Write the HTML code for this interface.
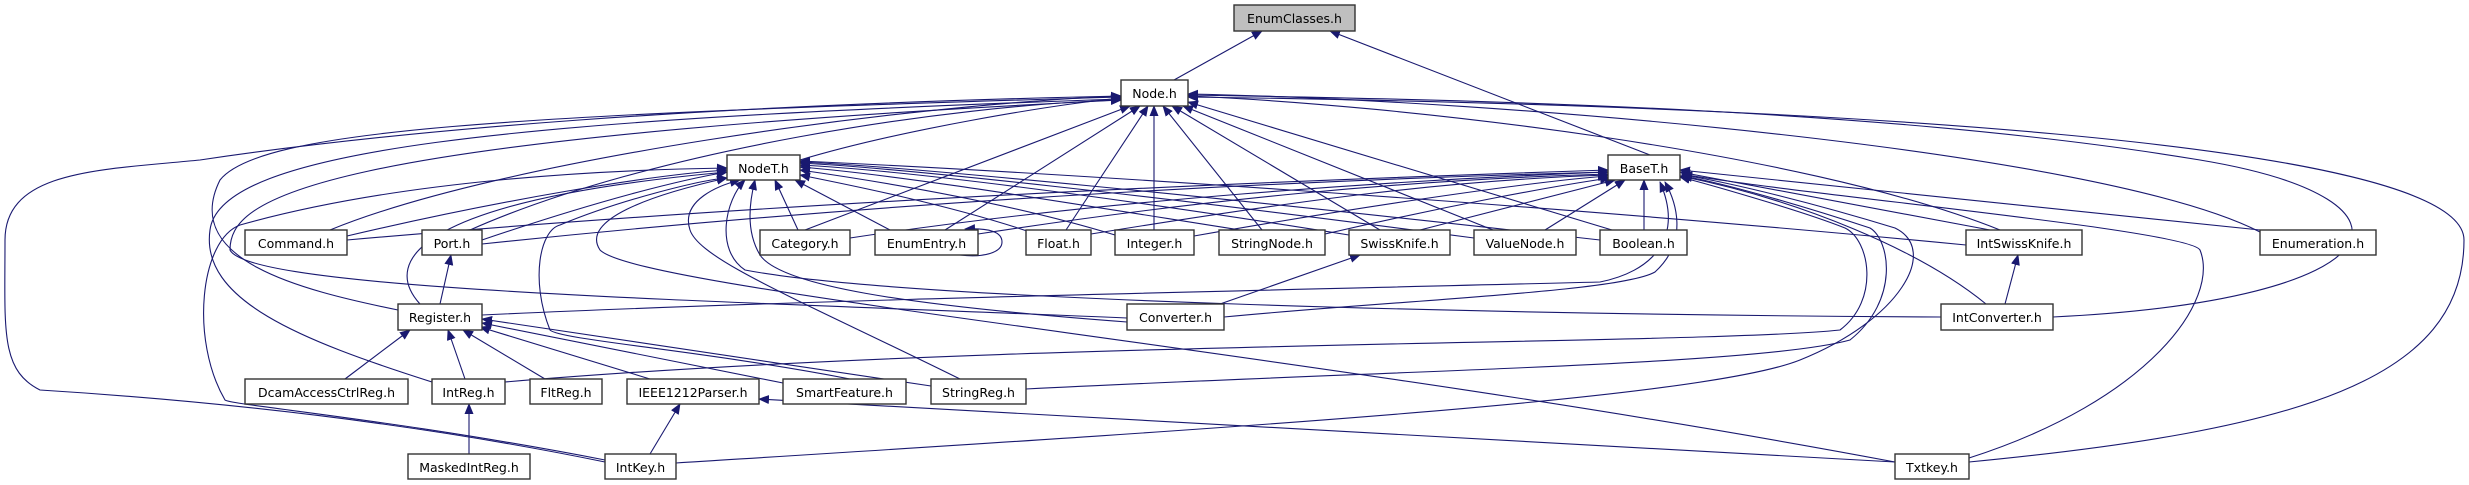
<!DOCTYPE html>
<html><head><meta charset="utf-8"><style>
html,body{margin:0;padding:0;background:#fff}
svg{display:block}
text{font-family:"DejaVu Sans","Liberation Sans",sans-serif;font-size:12.5px;fill:#000}
.e{fill:none;stroke:#191970;stroke-width:1.1}
.b{fill:#fff;stroke:#333;stroke-width:1.4}
</style></head><body>
<svg width="2469" height="485" viewBox="0 0 2469 485" xmlns="http://www.w3.org/2000/svg">
<defs><marker id="a" markerWidth="11" markerHeight="9" refX="10" refY="4.5" orient="auto" markerUnits="userSpaceOnUse"><path d="M0,0 L11,4.5 L0,9 z" fill="#191970"/></marker></defs>
<g class="e" marker-end="url(#a)">
<path d="M1174,80 L1262,31"/>
<path d="M1650,155 L1330,31"/>
<!-- Node.h -->
<path d="M800,160 C900,130 1050,105 1121,98"/>
<path d="M330,230 C500,160 900,105 1121,96"/>
<path d="M470,230 C650,150 950,105 1121,100"/>
<path d="M805,230 L1130,106"/>
<path d="M945,230 L1140,106"/>
<path d="M1066,230 L1148,106"/>
<path d="M1154,230 L1154,106"/>
<path d="M1262,230 L1163,106"/>
<path d="M1380,230 L1172,106"/>
<path d="M1493,230 L1183,106"/>
<path d="M1612,230 L1188,102"/>
<path d="M2000,230 C1800,150 1400,105 1188,96"/>
<path d="M2260,232 C2100,150 1500,100 1188,94"/>
<path d="M2053,317 C2400,300 2440,200 2200,160 C1900,110 1500,100 1188,95"/>
<path d="M1969,462 C2300,430 2464,380 2464,240 C2464,140 1800,105 1188,97"/>
<path d="M398,310 C300,290 180,260 220,180 C260,130 500,115 1121,97"/>
<path d="M1127,318 C700,300 250,290 230,250 C230,200 300,140 1121,100"/>
<path d="M432,382 C300,340 200,300 210,230 C220,150 500,120 1121,99"/>
<path d="M605,462 C400,420 200,400 40,390 C0,370 5,330 5,240 C5,170 100,170 200,160 C400,130 700,105 1121,96"/>
<!-- NodeT.h -->
<path d="M347,236 C500,200 650,175 727,170"/>
<path d="M482,240 C600,200 680,180 727,172"/>
<path d="M798,230 L775,180"/>
<path d="M890,230 L795,180"/>
<path d="M1030,232 C950,205 850,185 800,175"/>
<path d="M1115,235 C1000,200 870,180 800,170"/>
<path d="M1240,230 C1050,200 900,175 800,167"/>
<path d="M1349,235 C1100,195 900,170 800,165"/>
<path d="M1474,238 C1150,195 900,168 800,163"/>
<path d="M1600,240 C1200,195 900,166 800,162"/>
<path d="M1966,245 C1500,200 1000,170 800,161"/>
<path d="M420,304 C380,260 420,200 727,172"/>
<path d="M1127,322 C900,305 780,285 760,255 C745,230 750,200 755,180"/>
<path d="M1941,317 C1500,315 900,300 745,270 C715,250 725,200 745,180"/>
<path d="M605,460 C400,420 230,405 225,400 C190,340 200,240 240,225 C400,180 600,170 727,168"/>
<path d="M960,379 C800,300 700,260 690,230 C680,200 720,185 740,180"/>
<path d="M850,379 C700,350 560,340 550,330 C530,280 540,230 560,225 C620,200 700,180 727,178"/>
<path d="M1895,462 C1300,350 640,290 600,250 C580,220 650,195 727,178"/>
<!-- BaseT.h -->
<path d="M347,240 C800,200 1300,180 1608,170"/>
<path d="M482,244 C900,200 1300,180 1608,172"/>
<path d="M850,238 C1100,200 1400,180 1608,172"/>
<path d="M978,234 C1200,200 1400,180 1608,174"/>
<path d="M1091,234 C1300,200 1450,180 1608,175"/>
<path d="M1194,236 C1400,200 1550,180 1608,176"/>
<path d="M1325,234 C1450,205 1560,185 1610,178"/>
<path d="M1420,230 L1615,180"/>
<path d="M1545,230 L1625,180"/>
<path d="M1644,230 L1644,180"/>
<path d="M1990,230 L1680,172"/>
<path d="M2260,230 L1680,170"/>
<path d="M482,315 C800,300 1200,292 1600,282 C1650,272 1685,240 1660,182"/>
<path d="M1224,317 C1400,300 1620,292 1655,272 C1690,240 1675,200 1665,182"/>
<path d="M1986,304 C1920,250 1800,200 1680,176"/>
<path d="M505,382 C1000,340 1700,345 1840,330 C1880,300 1870,240 1845,228 C1800,210 1700,182 1680,177"/>
<path d="M1026,389 C1400,370 1760,365 1850,340 C1900,300 1890,240 1870,228 C1800,205 1720,182 1682,176"/>
<path d="M676,463 C1200,430 1700,400 1800,360 C1900,320 1940,250 1895,228 C1820,205 1730,182 1682,175"/>
<path d="M1969,458 C2150,400 2220,300 2200,250 C2190,230 1800,195 1682,174"/>
<!-- misc -->
<path d="M440,304 L451,255"/>
<path d="M345,379 L410,330"/>
<path d="M465,379 L448,330"/>
<path d="M545,379 L463,330"/>
<path d="M650,379 L480,327"/>
<path d="M783,383 L482,323"/>
<path d="M931,386 L482,319"/>
<path d="M469,454 L469,404"/>
<path d="M650,454 L680,404"/>
<path d="M1895,462 L759,399"/>
<path d="M1220,304 L1360,255"/>
<path d="M2005,304 L2018,255"/>
<path d="M960,255 C985,258 1002,252 1002,242 C1002,232 990,228 965,229"/>
</g>
<g>
<rect x="1234" y="5" width="121" height="26" fill="#bfbfbf" stroke="#333" stroke-width="1.4"/><text x="1294.5" y="23" text-anchor="middle">EnumClasses.h</text>
<rect class="b" x="1121" y="80" width="67" height="26"/><text x="1154.5" y="98" text-anchor="middle">Node.h</text>
<rect class="b" x="727" y="155" width="73" height="25"/><text x="763.5" y="173" text-anchor="middle">NodeT.h</text>
<rect class="b" x="1608" y="155" width="72" height="25"/><text x="1644" y="173" text-anchor="middle">BaseT.h</text>
<rect class="b" x="245" y="230" width="102" height="25"/><text x="296" y="248" text-anchor="middle">Command.h</text>
<rect class="b" x="422" y="230" width="60" height="25"/><text x="452" y="248" text-anchor="middle">Port.h</text>
<rect class="b" x="760" y="230" width="90" height="25"/><text x="805" y="248" text-anchor="middle">Category.h</text>
<rect class="b" x="875" y="230" width="103" height="25"/><text x="926.5" y="248" text-anchor="middle">EnumEntry.h</text>
<rect class="b" x="1026" y="230" width="65" height="25"/><text x="1058.5" y="248" text-anchor="middle">Float.h</text>
<rect class="b" x="1115" y="230" width="79" height="25"/><text x="1154.5" y="248" text-anchor="middle">Integer.h</text>
<rect class="b" x="1219" y="230" width="106" height="25"/><text x="1272" y="248" text-anchor="middle">StringNode.h</text>
<rect class="b" x="1349" y="230" width="101" height="25"/><text x="1399.5" y="248" text-anchor="middle">SwissKnife.h</text>
<rect class="b" x="1474" y="230" width="102" height="25"/><text x="1525" y="248" text-anchor="middle">ValueNode.h</text>
<rect class="b" x="1600" y="230" width="87" height="25"/><text x="1643.5" y="248" text-anchor="middle">Boolean.h</text>
<rect class="b" x="1966" y="230" width="116" height="25"/><text x="2024" y="248" text-anchor="middle">IntSwissKnife.h</text>
<rect class="b" x="2260" y="230" width="116" height="25"/><text x="2318" y="248" text-anchor="middle">Enumeration.h</text>
<rect class="b" x="398" y="304" width="84" height="26"/><text x="440" y="322" text-anchor="middle">Register.h</text>
<rect class="b" x="1127" y="304" width="97" height="26"/><text x="1175.5" y="322" text-anchor="middle">Converter.h</text>
<rect class="b" x="1941" y="304" width="112" height="26"/><text x="1997" y="322" text-anchor="middle">IntConverter.h</text>
<rect class="b" x="245" y="379" width="163" height="25"/><text x="326.5" y="397" text-anchor="middle">DcamAccessCtrlReg.h</text>
<rect class="b" x="432" y="379" width="73" height="25"/><text x="468.5" y="397" text-anchor="middle">IntReg.h</text>
<rect class="b" x="530" y="379" width="72" height="25"/><text x="566" y="397" text-anchor="middle">FltReg.h</text>
<rect class="b" x="627" y="379" width="132" height="25"/><text x="693" y="397" text-anchor="middle">IEEE1212Parser.h</text>
<rect class="b" x="783" y="379" width="123" height="25"/><text x="844.5" y="397" text-anchor="middle">SmartFeature.h</text>
<rect class="b" x="931" y="379" width="95" height="25"/><text x="978.5" y="397" text-anchor="middle">StringReg.h</text>
<rect class="b" x="408" y="454" width="122" height="25"/><text x="469" y="472" text-anchor="middle">MaskedIntReg.h</text>
<rect class="b" x="605" y="454" width="71" height="25"/><text x="640.5" y="472" text-anchor="middle">IntKey.h</text>
<rect class="b" x="1895" y="454" width="74" height="25"/><text x="1932" y="472" text-anchor="middle">Txtkey.h</text>
</g>
</svg>
</body></html>
